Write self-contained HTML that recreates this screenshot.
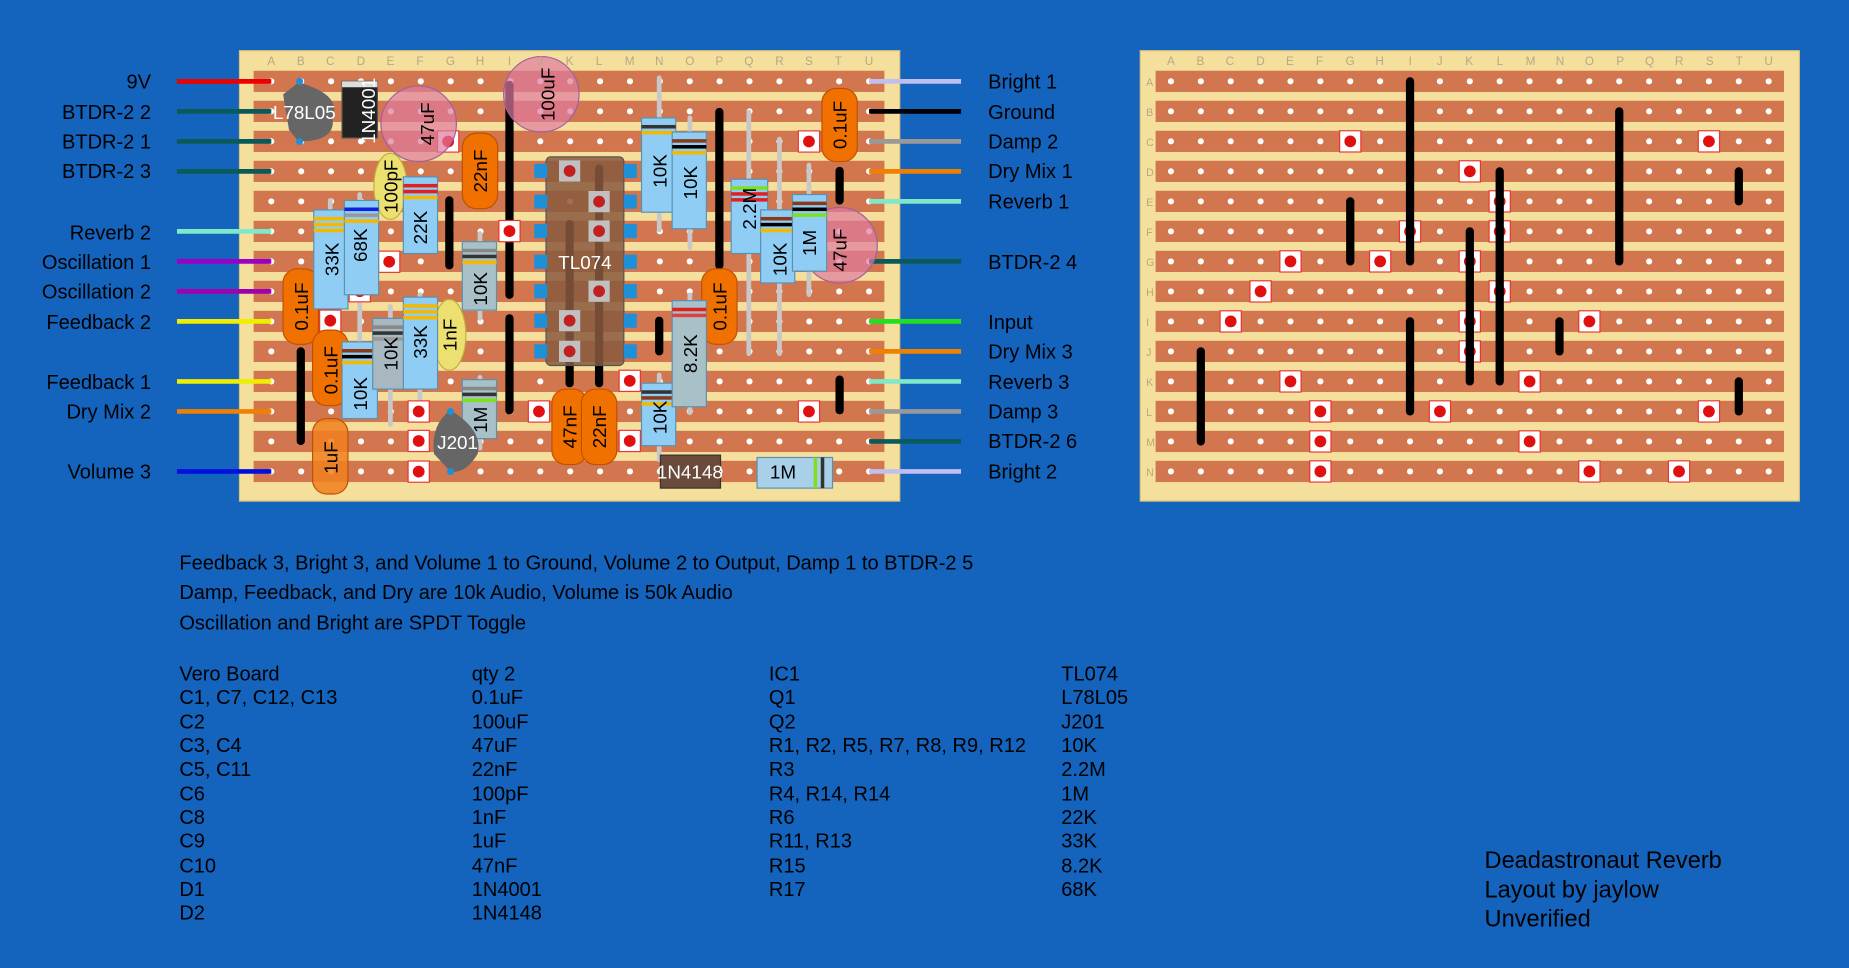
<!DOCTYPE html>
<html><head><meta charset="utf-8"><style>
html,body{margin:0;padding:0;background:#1463bd;width:1849px;height:968px;overflow:hidden}
svg{display:block}
text{font-family:"Liberation Sans",sans-serif}
</style></head><body>
<svg id="s" width="1849" height="968" viewBox="0 0 1568 821" xmlns="http://www.w3.org/2000/svg">
<rect width="1568" height="821" fill="#1463bd"/>
<rect x="203" y="43" width="560" height="382" fill="#f5df9c" stroke="#d9c27a"/>
<rect x="967" y="43" width="559" height="382" fill="#f5df9c" stroke="#d9c27a"/>
<g id="strips"></g>
<g id="comps"></g>
<g font-size="17" fill="#000" text-anchor="end">
<text x="128" y="75">9V</text><text x="128" y="101">BTDR-2 2</text><text x="128" y="126">BTDR-2 1</text><text x="128" y="151">BTDR-2 3</text>
<text x="128" y="203">Reverb 2</text><text x="128" y="228">Oscillation 1</text><text x="128" y="253">Oscillation 2</text><text x="128" y="279">Feedback 2</text>
<text x="128" y="330">Feedback 1</text><text x="128" y="355">Dry Mix 2</text><text x="128" y="406">Volume 3</text>
</g>
<g font-size="17" fill="#000">
<text x="838" y="75">Bright 1</text><text x="838" y="101">Ground</text><text x="838" y="126">Damp 2</text><text x="838" y="151">Dry Mix 1</text>
<text x="838" y="177">Reverb 1</text><text x="838" y="228">BTDR-2 4</text><text x="838" y="279">Input</text><text x="838" y="304">Dry Mix 3</text>
<text x="838" y="330">Reverb 3</text><text x="838" y="355">Damp 3</text><text x="838" y="380">BTDR-2 6</text><text x="838" y="406">Bright 2</text>
</g>
<g font-size="17" fill="#000">
<text x="152" y="483">Feedback 3, Bright 3, and Volume 1 to Ground, Volume 2 to Output, Damp 1 to BTDR-2 5</text>
<text x="152" y="508">Damp, Feedback, and Dry are 10k Audio, Volume is 50k Audio</text>
<text x="152" y="534">Oscillation and Bright are SPDT Toggle</text>
</g>
<g font-size="17" fill="#000">
<text x="152" y="577">Vero Board</text><text x="152" y="597">C1, C7, C12, C13</text><text x="152" y="618">C2</text><text x="152" y="638">C3, C4</text><text x="152" y="658">C5, C11</text><text x="152" y="679">C6</text><text x="152" y="699">C8</text><text x="152" y="719">C9</text><text x="152" y="740">C10</text><text x="152" y="760">D1</text><text x="152" y="780">D2</text>
<text x="400" y="577">qty 2</text><text x="400" y="597">0.1uF</text><text x="400" y="618">100uF</text><text x="400" y="638">47uF</text><text x="400" y="658">22nF</text><text x="400" y="679">100pF</text><text x="400" y="699">1nF</text><text x="400" y="719">1uF</text><text x="400" y="740">47nF</text><text x="400" y="760">1N4001</text><text x="400" y="780">1N4148</text>
<text x="652" y="577">IC1</text><text x="652" y="597">Q1</text><text x="652" y="618">Q2</text><text x="652" y="638">R1, R2, R5, R7, R8, R9, R12</text><text x="652" y="658">R3</text><text x="652" y="679">R4, R14, R14</text><text x="652" y="699">R6</text><text x="652" y="719">R11, R13</text><text x="652" y="740">R15</text><text x="652" y="760">R17</text>
<text x="900" y="577">TL074</text><text x="900" y="597">L78L05</text><text x="900" y="618">J201</text><text x="900" y="638">10K</text><text x="900" y="658">2.2M</text><text x="900" y="679">1M</text><text x="900" y="699">22K</text><text x="900" y="719">33K</text><text x="900" y="740">8.2K</text><text x="900" y="760">68K</text>
</g>
<g font-size="20" fill="#000">
<text x="1259" y="736">Deadastronaut Reverb</text><text x="1259" y="761">Layout by jaylow</text><text x="1259" y="786">Unverified</text>
</g>
<g font-size="10" fill="#b8a882" text-anchor="middle">
<text x="230" y="55">A</text><text x="255" y="55">B</text><text x="280" y="55">C</text><text x="306" y="55">D</text><text x="331" y="55">E</text><text x="356" y="55">F</text><text x="382" y="55">G</text><text x="407" y="55">H</text><text x="432" y="55">I</text><text x="458" y="55">J</text><text x="483" y="55">K</text><text x="508" y="55">L</text><text x="534" y="55">M</text><text x="559" y="55">N</text><text x="585" y="55">O</text><text x="610" y="55">P</text><text x="635" y="55">Q</text><text x="661" y="55">R</text><text x="686" y="55">S</text><text x="711" y="55">T</text><text x="737" y="55">U</text>
<text x="993" y="55">A</text><text x="1018" y="55">B</text><text x="1043" y="55">C</text><text x="1069" y="55">D</text><text x="1094" y="55">E</text><text x="1119" y="55">F</text><text x="1145" y="55">G</text><text x="1170" y="55">H</text><text x="1196" y="55">I</text><text x="1221" y="55">J</text><text x="1246" y="55">K</text><text x="1272" y="55">L</text><text x="1298" y="55">M</text><text x="1323" y="55">N</text><text x="1348" y="55">O</text><text x="1374" y="55">P</text><text x="1399" y="55">Q</text><text x="1424" y="55">R</text><text x="1450" y="55">S</text><text x="1475" y="55">T</text><text x="1500" y="55">U</text>
</g>
<g id="labels" font-size="16" text-anchor="middle">
<text transform="translate(312,94) rotate(-90)" fill="#fff" dy="6">1N4001</text>
<text transform="translate(362,105) rotate(-90)" fill="#000" dy="6">47uF</text>
<text transform="translate(464,80) rotate(-90)" fill="#000" dy="6">100uF</text>
<text transform="translate(407,145) rotate(-90)" fill="#000" dy="6">22nF</text>
<text transform="translate(331,158) rotate(-90)" fill="#000" dy="6">100pF</text>
<text transform="translate(281,220) rotate(-90)" fill="#000" dy="6">33K</text>
<text transform="translate(305,208) rotate(-90)" fill="#000" dy="6">68K</text>
<text transform="translate(356,193) rotate(-90)" fill="#000" dy="6">22K</text>
<text transform="translate(407,245) rotate(-90)" fill="#000" dy="6">10K</text>
<text transform="translate(559,145) rotate(-90)" fill="#000" dy="6">10K</text>
<text transform="translate(585,155) rotate(-90)" fill="#000" dy="6">10K</text>
<text transform="translate(635,177) rotate(-90)" fill="#000" dy="6">2.2M</text>
<text transform="translate(661,220) rotate(-90)" fill="#000" dy="6">10K</text>
<text transform="translate(686,206) rotate(-90)" fill="#000" dy="6">1M</text>
<text transform="translate(712,212) rotate(-90)" fill="#000" dy="6">47uF</text>
<text transform="translate(712,106) rotate(-90)" fill="#000" dy="6">0.1uF</text>
<text transform="translate(255,260) rotate(-90)" fill="#000" dy="6">0.1uF</text>
<text transform="translate(280,314) rotate(-90)" fill="#000" dy="6">0.1uF</text>
<text transform="translate(280,388) rotate(-90)" fill="#000" dy="6">1uF</text>
<text transform="translate(305,334) rotate(-90)" fill="#000" dy="6">10K</text>
<text transform="translate(331,300) rotate(-90)" fill="#000" dy="6">10K</text>
<text transform="translate(356,290) rotate(-90)" fill="#000" dy="6">33K</text>
<text transform="translate(381,284) rotate(-90)" fill="#000" dy="6">1nF</text>
<text transform="translate(407,356) rotate(-90)" fill="#000" dy="6">1M</text>
<text transform="translate(483,362) rotate(-90)" fill="#000" dy="6">47nF</text>
<text transform="translate(508,362) rotate(-90)" fill="#000" dy="6">22nF</text>
<text transform="translate(559,354) rotate(-90)" fill="#000" dy="6">10K</text>
<text transform="translate(585,300) rotate(-90)" fill="#000" dy="6">8.2K</text>
<text transform="translate(610,260) rotate(-90)" fill="#000" dy="6">0.1uF</text>
<text x="258" y="101" fill="#fff">L78L05</text>
<text x="388" y="381" fill="#fff">J201</text>
<text x="496" y="228" fill="#fff">TL074</text>
<text x="585" y="406" fill="#fff">1N4148</text>
<text x="664" y="406" fill="#000">1M</text>
</g>
</svg>
<script>
(function(){
var NS="http://www.w3.org/2000/svg";
function el(p,t,a){var e=document.createElementNS(NS,t);for(var k in a)e.setAttribute(k,a[k]);p.appendChild(e);return e;}
var S=document.getElementById('strips'),C=document.getElementById('comps');
var rows=[],i;for(i=0;i<14;i++)rows.push(69+i*25.45);
var lc=[],rc=[];for(i=0;i<21;i++){lc.push(230+i*25.35);rc.push(993+i*25.35);}
rows.forEach(function(y){
 el(S,'rect',{x:215,y:y-9,width:535,height:18,fill:'#d1764e'});
 el(S,'rect',{x:980,y:y-9,width:533,height:18,fill:'#d1764e'});
 lc.forEach(function(x){el(S,'circle',{cx:x,cy:y,r:2.6,fill:'#fff'});});
 rc.forEach(function(x){el(S,'circle',{cx:x,cy:y,r:2.6,fill:'#fff'});});
});
// row labels left/right
var L="ABCDEFGHIJKLMN";
for(i=0;i<14;i++){var t=el(S,'text',{x:972,y:rows[i]+4,'font-size':9,fill:'#b8a882'});t.textContent=L[i];}
function cut(x,y){el(C,'rect',{x:x-9,y:y-9,width:18,height:18,fill:'#fff',stroke:'#e33','stroke-width':1});el(C,'circle',{cx:x,cy:y,r:5,fill:'#e01010'});}
function link(x,y1,y2){el(C,'line',{x1:x,y1:y1,x2:x,y2:y2,stroke:'#000','stroke-width':7,'stroke-linecap':'round'});}
function R(c,r){return [rc[c],rows[r]];}
// right board cuts: [col,row]
[[6,2],[18,2],[10,3],[11,4],[8,5],[11,5],[4,6],[7,6],[10,6],[3,7],[11,7],[2,8],[10,8],[14,8],[10,9],[4,10],[12,10],[5,11],[9,11],[18,11],[5,12],[12,12],[5,13],[14,13],[17,13]].forEach(function(a){cut(rc[a[0]],rows[a[1]]);});
[[8,0,6],[15,1,6],[19,3,4],[6,4,6],[10,5,10],[11,3,10],[1,9,12],[8,8,11],[13,8,9],[19,10,11]].forEach(function(a){link(rc[a[0]],rows[a[1]],rows[a[2]]);});
// wires left
var lw=[['#e00',0],['#0a5a5a',1],['#0a5a5a',2],['#0a5a5a',3],['#7fe8c8',5],['#9b00c8',6],['#a000b0',7],['#ee0',8],['#ee0',10],['#f08000',11],['#0010e0',13]];
lw.forEach(function(w){el(C,'line',{x1:150,y1:rows[w[1]],x2:230,y2:rows[w[1]],stroke:w[0],'stroke-width':4});});
var rw=[['#c0c0f0',0],['#000',1],['#999',2],['#f08000',3],['#7fe8c8',4],['#0a5a5a',6],['#20e020',8],['#f08000',9],['#7fe8c8',10],['#999',11],['#0a5a5a',12],['#c0c0f0',13]];
rw.forEach(function(w){el(C,'line',{x1:737,y1:rows[w[1]],x2:815,y2:rows[w[1]],stroke:w[0],'stroke-width':4});});
// leads (gray)
[[559,66,195],[585,100,210],[635,95,300],[661,118,300],[686,140,250],[407,198,270],[305,165,300],[280,170,262],[331,260,360],[356,250,345],[407,320,380],[559,318,390],[585,250,350]].forEach(function(a){el(C,'line',{x1:a[0],y1:a[1],x2:a[0],y2:a[2],stroke:'#c8c8c8','stroke-width':4,'stroke-linecap':'round'});});
// links left
[[432,72,250],[381,170,225],[610,95,225],[432,270,348],[559,272,298],[712,145,170],[712,322,348],[255,298,374],[483,190,325],[508,143,325]].forEach(function(a){link(a[0],a[1],a[2]);});
// left cuts
[[380,120],[686,120],[432,196],[330,222],[305,247],[280,272],[355,349],[355,374],[355,400],[457,349],[534,323],[534,374],[686,349]].forEach(function(a){cut(a[0],a[1]);});
function rr(x,y,w,h,f,rx,st,op){el(C,'rect',{x:x,y:y,width:w,height:h,rx:rx||0,fill:f,stroke:st||'none','fill-opacity':op||1});}
function res(x,y,w,h,bands,f){rr(x,y,w,h,f||'#8fcdf4',0,'#5a90b0');bands.forEach(function(b,i){rr(x,y+6+i*5,w,3,b);});}
// IC
rr(463,133,66,177,'#8a5a40',4,'#555',0.85);
[145,171,196,222,247,272,298].forEach(function(y){rr(453,y-6,11,12,'#1e90d8');rr(529,y-6,11,12,'#1e90d8');});
[[483,145],[508,171],[508,196],[508,247],[483,272],[483,298]].forEach(function(a){rr(a[0]-9,a[1]-9,18,18,'#c0c0c0');el(C,'circle',{cx:a[0],cy:a[1],r:5,fill:'#c02020'});});
// caps electrolytic pink
[[355,105],[459,80],[712,208]].forEach(function(a){el(C,'circle',{cx:a[0],cy:a[1],r:32,fill:'#e07aa0','fill-opacity':0.7,stroke:'#a060a0'});});
// orange caps
[[392,113,30,64],[697,75,30,62],[240,228,30,64],[265,280,30,64],[595,228,30,64],[468,330,30,64],[493,330,30,64]].forEach(function(a){rr(a[0],a[1],a[2],a[3],'#f07000',12,'#c05000');});
rr(265,355,30,64,'#f08020',12,'#c05000',0.85);
// yellow ellipses
el(C,'ellipse',{cx:331,cy:158,rx:14,ry:28,fill:'#ece070',stroke:'#c0b040'});
el(C,'ellipse',{cx:381,cy:284,rx:14,ry:30,fill:'#ece070',stroke:'#c0b040'});
// resistors
res(266,178,29,84,['#f5b800','#f5b800','#f5b800']);
res(292,170,29,80,['#1020e0','#999','#f5b800']);
res(342,150,29,65,['#e02020','#e02020','#f5b800']);
res(392,205,29,58,['#888','#333','#f5b800'],'#a8c0c8');
res(544,100,29,80,['#333','#f5b800']);
res(570,112,29,82,['#8a3a1a','#000','#f5b800']);
res(620,152,31,63,['#80e020','#e02020','#e02020']);
res(645,178,29,62,['#8a3a1a','#000','#f5b800']);
res(672,165,29,65,['#8a3a1a','#000','#80e020']);
res(290,290,30,65,['#8a3a1a','#000','#f5b800']);
res(316,270,28,60,['#888','#333','#999'],'#a8b8c0');
res(342,252,29,78,['#f5b800','#f5b800','#f5b800']);
res(392,322,29,50,['#888','#333','#80e020'],'#a8c0c8');
res(544,325,29,53,['#333','#8a3a1a','#f5b800']);
res(570,255,29,90,['#e02020','#e04040'],'#a8c0c8');
// horizontal parts
rr(560,386,51,28,'#6a4a3a',0,'#333');
rr(642,388,64,26,'#a8d0e8',0,'#5a90b0');rr(690,388,3,26,'#80e020');rr(696,388,3,26,'#333');
// regulators
el(C,'path',{d:'M253 70 Q290 80 282 100 Q285 120 253 120 L245 110 L240 80 Z',fill:'#666'});
el(C,'circle',{cx:254,cy:69,r:3,fill:'#1e90d8'});el(C,'circle',{cx:254,cy:120,r:3,fill:'#1e90d8'});
rr(290,69,30,48,'#222',0,'#555');rr(290,69,30,5,'#ddd');
el(C,'path',{d:'M382 348 Q410 365 405 385 Q395 402 382 400 L368 385 Q365 360 382 348 Z',fill:'#666'});
el(C,'circle',{cx:382,cy:349,r:3,fill:'#1e90d8'});el(C,'circle',{cx:382,cy:400,r:3,fill:'#1e90d8'});
// move labels to top
var lb=document.getElementById('labels');lb.parentNode.appendChild(lb);
})();
</script>
</body></html>
